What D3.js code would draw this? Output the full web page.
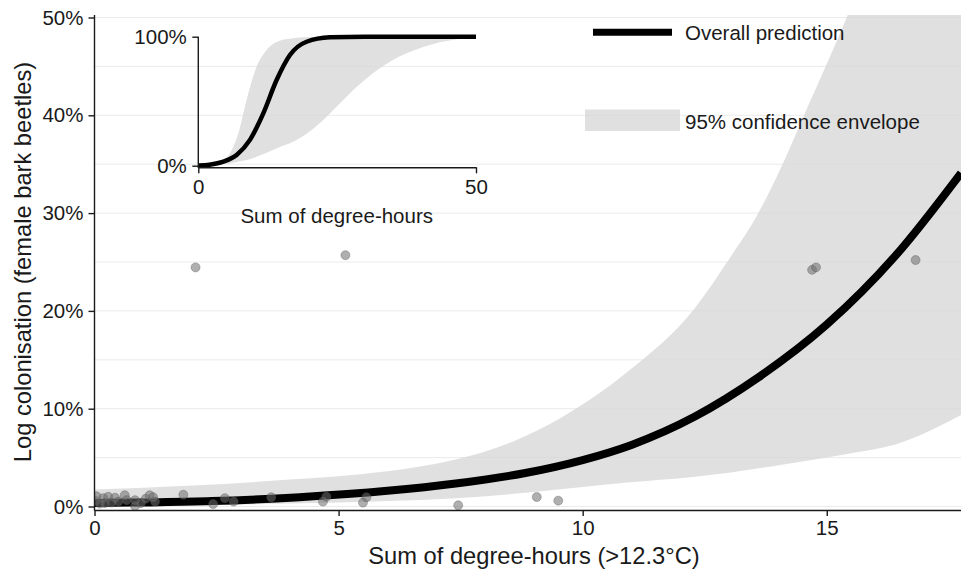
<!DOCTYPE html>
<html>
<head>
<meta charset="utf-8">
<script src="https://cdn.jsdelivr.net/npm/d3@7"></script>
<style>
  body { margin: 0; background: #fff; }
  text { font-family: "Liberation Sans", Arial, sans-serif; fill: #1a1a1a; }
</style>
</head>
<body>
<script>
"use strict";

// main prediction curve (sum of degree-hours -> % colonisation)
const predX = [0, 1, 2.4, 4.2, 6, 7.4, 8.8, 10, 11, 12.3, 13.6, 15, 16.4, 17.75];
const predY = [0.35, 0.42, 0.55, 0.95, 1.6, 2.35, 3.4, 4.75, 6.3, 9.2, 13.2, 18.6, 25.6, 34.1];

// 95% confidence envelope
const envX = [0, 2, 4, 6, 7.4, 8.6, 9.6, 10.9, 12.3, 13.0, 13.6, 14.05, 14.5, 15.45, 16.5, 17.75];
const envHigh = [1.75, 2.15, 2.75, 3.6, 4.8, 6.7, 9.2, 13.7, 20.3, 25.3, 30.0, 34.5, 39.6, 50.5, 64, 85];
const envLow = [0.1, 0.15, 0.3, 0.55, 0.85, 1.3, 1.8, 2.45, 3.05, 3.45, 3.9, 4.25, 4.6, 5.4, 6.5, 9.35];

// observations
const obsX = [0.02, 0.04, 0.11, 0.18, 0.21, 0.28, 0.35, 0.42, 0.49, 0.62, 0.66, 0.83, 0.83, 0.95, 1.05,
  1.13, 1.2, 1.24, 1.82, 2.07, 2.43, 2.67, 2.85, 3.62, 4.68, 4.75, 5.14, 5.5, 5.57, 7.45, 9.06, 9.5,
  14.7, 14.78, 16.82];
const obsY = [0.55, 1.05, 0.3, 0.85, 0.35, 1.0, 0.4, 0.9, 0.5, 1.15, 0.65, 0.65, 0.05, 0.35, 0.8,
  1.15, 0.95, 0.5, 1.2, 24.45, 0.25, 0.85, 0.5, 0.95, 0.5, 1.0, 25.7, 0.4, 0.95, 0.12, 0.97, 0.6,
  24.2, 24.45, 25.2];

// inset: full range of the prediction
const insX = [0, 2, 4.5, 6.9, 9.3, 11.7, 14.1, 16.5, 19.5, 23.7, 30, 50];
const insY = [0.2, 0.8, 3.1, 8.3, 20, 40.6, 66.4, 85.8, 96.1, 99.5, 100, 100];
const insEnvX = [0, 2, 4, 5.7, 7.2, 8.7, 10.5, 12.3, 15, 16.5, 18.9, 22.5, 25, 28.5, 34.5, 40.5, 46.5, 50];
const insHigh = [0.2, 0.8, 3, 9.6, 25, 51, 76.7, 89.7, 97.4, 98.5, 99.5, 99.9, 100, 100, 100, 100, 100, 100];
const insLow = [0.05, 0.4, 1.0, 1.8, 3.0, 4.4, 7, 10, 15, 17.4, 23, 35.4, 46, 61, 80.6, 92, 98, 99.5];

const xTicks = [0, 5, 10, 15];
const yTicks = [0, 10, 20, 30, 40, 50];
const gridTicks = [0, 5, 10, 15, 20, 25, 30, 35, 40, 45, 50];

const W = 961, H = 574;
const ink = "#1a1a1a";
const envFill = "#d6d6d6";

let svg = d3.select("body").append("svg").attr("width", W).attr("height", H);

const x = d3.scaleLinear().domain([0, 17.75]).range([94.5, 961]);
const y = d3.scaleLinear().domain([0, 50]).range([506.5, 17.5]);
const plotTop = 15, plotBottom = 510;

svg.append("clipPath").attr("id", "clip")
  .append("rect").attr("x", 94.5).attr("y", plotTop).attr("width", W - 94.5).attr("height", plotBottom - plotTop);

// grid
svg.append("g").selectAll("line").data(gridTicks).enter().append("line")
  .attr("x1", 94.5).attr("x2", W)
  .attr("y1", d => y(d)).attr("y2", d => y(d))
  .attr("stroke", "#ebebeb").attr("stroke-width", 1);

let plot = svg.append("g").attr("clip-path", "url(#clip)");

const env = envX.map((d, i) => ({ x: d, lo: envLow[i], hi: envHigh[i] }));
plot.append("path").datum(env)
  .attr("d", d3.area().curve(d3.curveMonotoneX)
    .x(d => x(d.x)).y0(d => y(d.lo)).y1(d => y(d.hi)))
  .attr("fill", envFill).attr("opacity", 0.75);

plot.append("path").datum(predX.map((d, i) => [d, predY[i]]))
  .attr("d", d3.line().curve(d3.curveMonotoneX).x(d => x(d[0])).y(d => y(d[1])))
  .attr("fill", "none").attr("stroke", "#000").attr("stroke-width", 8);

plot.append("g").selectAll("circle").data(obsX.map((d, i) => [d, obsY[i]])).enter()
  .append("circle")
  .attr("cx", d => x(d[0])).attr("cy", d => y(d[1])).attr("r", 4.5)
  .attr("fill", "#6e6e6e").attr("fill-opacity", 0.55)
  .attr("stroke", "#555").attr("stroke-opacity", 0.45).attr("stroke-width", 0.8);

// axes
let xAxis = svg.append("g").attr("transform", `translate(0,${plotBottom})`)
  .call(d3.axisBottom(x).tickValues(xTicks).tickSize(6).tickSizeOuter(0).tickPadding(4));
let yAxis = svg.append("g").attr("transform", "translate(94.5,0)")
  .call(d3.axisLeft(y).tickValues(yTicks).tickSize(6).tickPadding(5).tickFormat(d => d + "%"));
yAxis.select(".domain").remove();
yAxis.append("line").attr("y1", plotTop).attr("y2", plotBottom + 0.7);
[xAxis, yAxis].forEach(a => {
  a.selectAll("line, path").attr("stroke", ink).attr("stroke-width", 1.4);
  a.selectAll("text").attr("font-size", "20.5px").attr("fill", ink)
    .style("font-family", "'Liberation Sans', Arial, sans-serif");
});

svg.append("text").attr("x", 534).attr("y", 564).attr("text-anchor", "middle")
  .attr("font-size", "23.7px").text("Sum of degree-hours (>12.3°C)");
svg.append("text").attr("transform", "translate(30.5,262) rotate(-90)").attr("text-anchor", "middle")
  .attr("font-size", "23.7px").text("Log colonisation (female bark beetles)");

// legend
svg.append("line").attr("x1", 593).attr("x2", 672).attr("y1", 32.3).attr("y2", 32.3)
  .attr("stroke", "#000").attr("stroke-width", 7);
svg.append("text").attr("x", 685).attr("y", 39.5).attr("font-size", "20.5px").text("Overall prediction");
svg.append("rect").attr("x", 585).attr("y", 109.5).attr("width", 95).attr("height", 21.5)
  .attr("fill", envFill).attr("opacity", 0.75);
svg.append("text").attr("x", 685).attr("y", 128.5).attr("font-size", "20.5px").text("95% confidence envelope");

// inset
const ix = d3.scaleLinear().domain([0, 50]).range([198.3, 476]);
const iy = d3.scaleLinear().domain([0, 100]).range([165.7, 36.7]);
let inset = svg.append("g");

inset.append("path").datum(insEnvX.map((d, i) => ({ x: d, lo: insLow[i], hi: insHigh[i] })))
  .attr("d", d3.area().curve(d3.curveMonotoneX)
    .x(d => ix(d.x)).y0(d => iy(d.lo)).y1(d => iy(d.hi)))
  .attr("fill", envFill).attr("opacity", 0.75);

inset.append("path").datum(insX.map((d, i) => [d, insY[i]]))
  .attr("d", d3.line().curve(d3.curveMonotoneX).x(d => ix(d[0])).y(d => iy(d[1])))
  .attr("fill", "none").attr("stroke", "#000").attr("stroke-width", 4.5);

let ixAxis = inset.append("g").attr("transform", "translate(0,167.3)")
  .call(d3.axisBottom(ix).tickValues([0, 50]).tickSize(6).tickSizeOuter(0).tickPadding(6));
let iyAxis = inset.append("g").attr("transform", "translate(198.3,0)")
  .call(d3.axisLeft(iy).tickValues([0, 100]).tickSize(6).tickPadding(5.5).tickFormat(d => d + "%"));
iyAxis.select(".domain").remove();
iyAxis.append("line").attr("y1", 36.7).attr("y2", 168);
[ixAxis, iyAxis].forEach(a => {
  a.selectAll("line, path").attr("stroke", ink).attr("stroke-width", 1.4);
  a.selectAll("text").attr("font-size", "20.5px").attr("fill", ink)
    .style("font-family", "'Liberation Sans', Arial, sans-serif");
});
inset.append("text").attr("x", 336.7).attr("y", 223.3).attr("text-anchor", "middle")
  .attr("font-size", "20.5px").text("Sum of degree-hours");
</script>
</body>
</html>
